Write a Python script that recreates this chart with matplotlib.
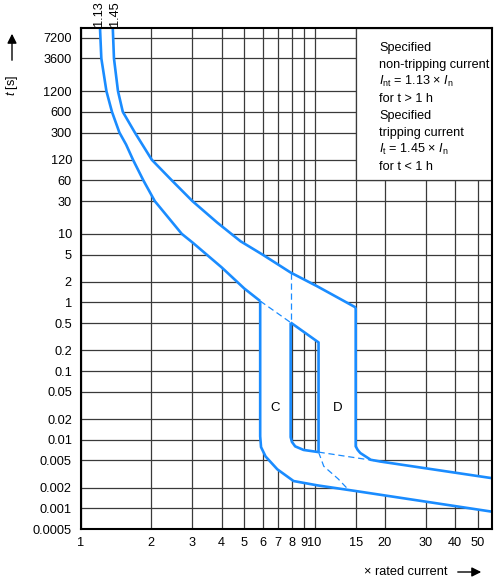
import math

import matplotlib.pyplot as plt
from matplotlib.path import Path
from matplotlib.patches import PathPatch, Rectangle
from matplotlib.ticker import NullLocator
from matplotlib.transforms import blended_transform_factory

plt.rcParams["font.family"] = ["Liberation Sans", "DejaVu Sans"]
plt.rcParams["font.size"] = 9
plt.rcParams["mathtext.fontset"] = "custom"
plt.rcParams["mathtext.rm"] = "Liberation Sans"
plt.rcParams["mathtext.it"] = "Liberation Sans:italic"

# axis ticks
x_ticks = [1, 2, 3, 4, 5, 6, 7, 8, 9, 10, 15, 20, 30, 40, 50]
y_ticks = [0.0005, 0.001, 0.002, 0.005, 0.01, 0.02, 0.05, 0.1, 0.2, 0.5,
           1, 2, 5, 10, 30, 60, 120, 300, 600, 1200, 3600, 7200]
y_labels = ["0.0005", "0.001", "0.002", "0.005", "0.01", "0.02", "0.05", "0.1",
            "0.2", "0.5", "1", "2", "5", "10", "30", "60", "120", "300", "600",
            "1200", "3600", "7200"]

# thermal curves (x rated current, t in s)
curve_113_x = [1.206, 1.222, 1.285, 1.357, 1.46, 1.56, 1.67, 1.85, 2.07, 2.70, 3.0, 4.0, 5.0, 5.85]
curve_113_t = [10000, 3600, 1200, 600, 300, 200, 120, 60, 30, 10, 7.5, 3.25, 1.6, 1.05]
curve_145_x = [1.368, 1.384, 1.44, 1.51, 1.70, 2.01, 2.45, 3.0, 3.83, 4.82, 5.98, 7.9, 10.3, 15.0]
curve_145_t = [10000, 3600, 1200, 600, 300, 120, 60, 30, 14.6, 7.8, 5.0, 2.73, 1.71, 0.846]

# C left edge + lower instantaneous line
c_outer_x = [5.85, 5.85, 5.9, 6.17, 6.93, 8.13, 10.3, 15.3, 58]
c_outer_t = [1.05, 0.0112, 0.0078, 0.0057, 0.0037, 0.0025, 0.00216, 0.00177, 0.00089]
# D right edge + upper instantaneous line
d_outer_x = [15.0, 15.0, 15.3, 15.7, 17.4, 19.2, 58]
d_outer_t = [0.846, 0.008, 0.0071, 0.0064, 0.0051, 0.0048, 0.00274]
# inner edges
c_inner_x = [7.9, 7.9, 8.0, 8.26, 8.97, 10.4]
c_inner_t = [0.51, 0.0109, 0.0093, 0.008, 0.0071, 0.0066]
d_inner_x = [7.9, 10.4, 10.4]
d_inner_t = [0.51, 0.262, 0.0066]
# dashed continuations
dash_113_x = [5.85, 7.9]
dash_113_t = [1.05, 0.51]
dash_vert_x = [7.9, 7.9]
dash_vert_t = [2.73, 0.51]
dash_c_x = [10.4, 19.2]
dash_c_t = [0.0066, 0.0048]
dash_d_x = [10.4, 10.95, 12.6, 13.9]
dash_d_t = [0.0066, 0.0041, 0.0027, 0.0019]

box_lines = [
    "Specified",
    "non-tripping current",
    r"$I_{\mathrm{nt}}$ = 1.13 × $I_{\mathrm{n}}$",
    "for t > 1 h",
    "Specified",
    "tripping current",
    r"$I_{\mathrm{t}}$ = 1.45 × $I_{\mathrm{n}}$",
    "for t < 1 h",
]

BLUE = "#1a8cff"
GRID = "#3a3a3a"
W, H = 497, 580

fig = plt.figure(figsize=(W / 100, H / 100), dpi=100)
ax = fig.add_axes([81 / W, 1 - 529 / H, (492 - 81) / W, (529 - 28) / H])
ax.set_xscale("log")
ax.set_yscale("log")
ax.set_xlim(1, 57.5)
ax.set_ylim(0.0005, 10000)
ax.set_xticks(x_ticks)
ax.set_xticklabels([str(v) for v in x_ticks])
ax.set_yticks(y_ticks)
ax.set_yticklabels(y_labels)
ax.xaxis.set_minor_locator(NullLocator())
ax.yaxis.set_minor_locator(NullLocator())
ax.tick_params(axis="x", length=0, pad=6, labelsize=9.2)
ax.tick_params(axis="y", length=0, pad=6.5, labelsize=9.2)
ax.grid(True, color=GRID, lw=0.9)
ax.set_axisbelow(True)
for spine in ax.spines.values():
    spine.set_color("black")
    spine.set_linewidth(1.5)
    spine.set_zorder(5)

# white box for the note
ax.add_patch(Rectangle((15, 60), 57.5 - 15, 10000 - 60, facecolor="white",
                       edgecolor=GRID, lw=0.9, zorder=1))

# white band with a hole between C and D
outer = (list(zip(curve_113_x, curve_113_t)) + list(zip(c_outer_x, c_outer_t))
         + list(zip(d_outer_x, d_outer_t))[::-1] + list(zip(curve_145_x, curve_145_t))[::-1])
hole = list(zip(d_inner_x, d_inner_t)) + list(zip(c_inner_x, c_inner_t))[::-1][:-1]


def signed_area(pts):
    s = 0.0
    for (x1, y1), (x2, y2) in zip(pts, pts[1:] + pts[:1]):
        s += math.log10(x1) * math.log10(y2) - math.log10(x2) * math.log10(y1)
    return s


if (signed_area(outer) > 0) == (signed_area(hole) > 0):
    hole = hole[::-1]
verts = outer + [outer[0]] + hole + [hole[0]]
codes = ([Path.MOVETO] + [Path.LINETO] * (len(outer) - 1) + [Path.CLOSEPOLY]
         + [Path.MOVETO] + [Path.LINETO] * (len(hole) - 1) + [Path.CLOSEPOLY])
ax.add_patch(PathPatch(Path(verts, codes), facecolor="white", lw=0, zorder=1.5))

solid = dict(color=BLUE, lw=1.9, zorder=3, solid_joinstyle="round", solid_capstyle="butt")
dashed = dict(color=BLUE, lw=0.9, zorder=3, linestyle=(0, (5, 3)))
ax.plot(curve_113_x, curve_113_t, **solid)
ax.plot(curve_145_x, curve_145_t, **solid)
ax.plot(c_outer_x, c_outer_t, **solid)
ax.plot(d_outer_x, d_outer_t, **solid)
ax.plot(c_inner_x, c_inner_t, **solid)
ax.plot(d_inner_x, d_inner_t, **solid)
ax.plot(dash_113_x, dash_113_t, **dashed)
ax.plot(dash_vert_x, dash_vert_t, **dashed)
ax.plot(dash_c_x, dash_c_t, **dashed)
ax.plot(dash_d_x, dash_d_t, **dashed)

ax.text(6.8, 0.0286, "C", ha="center", va="center", fontsize=9.5, zorder=4)
ax.text(12.5, 0.0286, "D", ha="center", va="center", fontsize=9.5, zorder=4)

top = blended_transform_factory(ax.transData, ax.transAxes)
ax.text(1.195, 1.004, "1.13", transform=top, rotation=90, ha="center", va="bottom", fontsize=9.2)
ax.text(1.40, 1.004, "1.45", transform=top, rotation=90, ha="center", va="bottom", fontsize=9.2)

for i, line in enumerate(box_lines):
    fig.text(379 / W, 1 - (51.5 + i * 16.9) / H, line, ha="left", va="baseline", fontsize=9.1)

# axis labels with arrows
fig.text(12 / W, 1 - 85 / H, r"$t$ [s]", rotation=90, ha="center", va="center", fontsize=9)
fig.add_artist(plt.Annotation("", xy=(12 / W, 1 - 31 / H), xytext=(12 / W, 1 - 63 / H),
                              xycoords="figure fraction",
                              arrowprops=dict(arrowstyle="-|>", color="black", lw=1,
                                              mutation_scale=14)))
fig.text(448 / W, 1 - 572 / H, "× rated current", ha="right", va="center", fontsize=9.2)
fig.add_artist(plt.Annotation("", xy=(484 / W, 1 - 572 / H), xytext=(455 / W, 1 - 572 / H),
                              xycoords="figure fraction",
                              arrowprops=dict(arrowstyle="-|>", color="black", lw=1,
                                              mutation_scale=14)))

fig.savefig("out.png", dpi=100)
